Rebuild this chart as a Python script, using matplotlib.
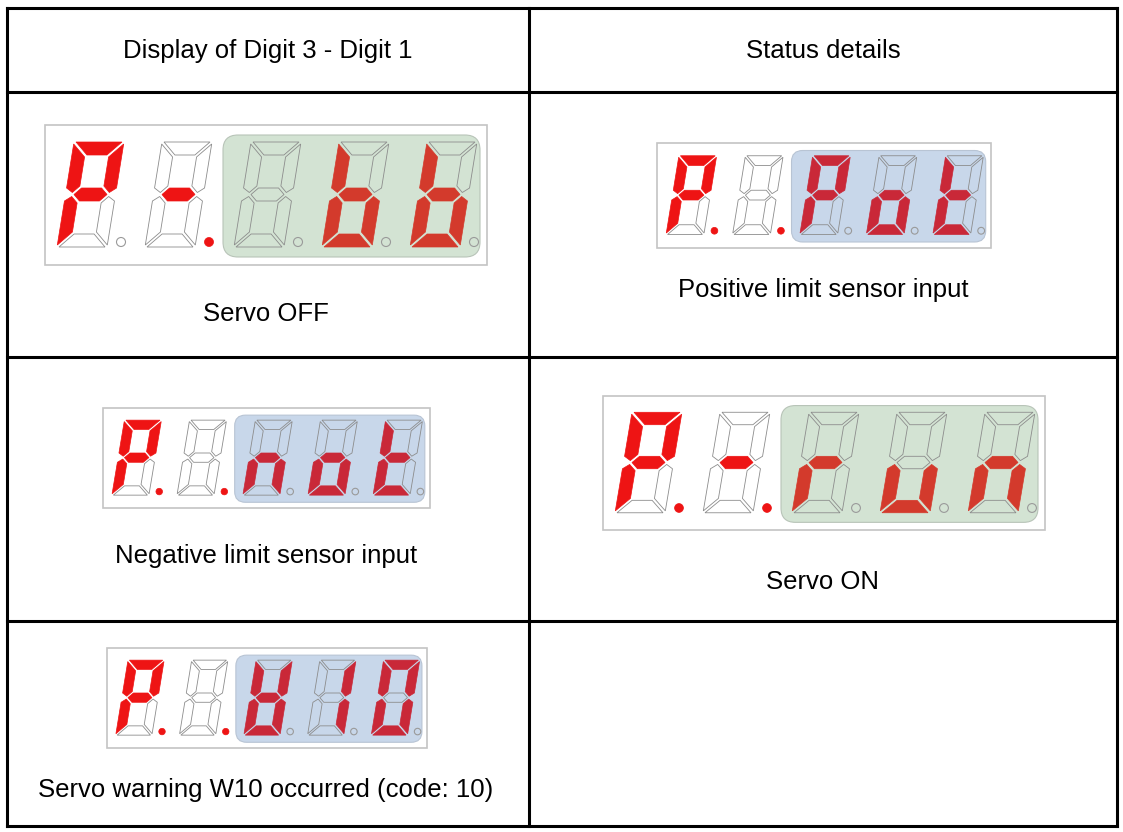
import matplotlib.pyplot as plt
from matplotlib.patches import Polygon, Circle, Rectangle, FancyBboxPatch

plt.rcParams['font.family'] = ['Liberation Sans', 'DejaVu Sans']

# ---- table content ----
header = ['Display of Digit 3 - Digit 1', 'Status details']
status_labels = ['Servo OFF', 'Positive limit sensor input',
                 'Negative limit sensor input', 'Servo ON',
                 'Servo warning W10 occurred (code: 10)']
# characters shown on each 5-digit display
display_chars = [['P', '-', ' ', 'b', 'b'],
                 ['P', ' ', 'P', 'o', 't'],
                 ['P', ' ', 'n', 'o', 't'],
                 ['P', '-', 'r', 'u', 'n'],
                 ['P', ' ', 'W', '1', '0']]
# decimal point lit after digit 1 / digit 2
lead_dots = [[False, True], [True, True], [True, True], [True, True], [True, True]]
box_kind = ['green', 'blue', 'blue', 'green', 'blue']

# segments lit for each character
SEG = {'P': 'abefg', '-': 'g', ' ': '', 'b': 'cdefg', 'o': 'cdeg',
       't': 'defg', 'n': 'ceg', 'r': 'eg', 'u': 'cde', 'W': 'bcdefg',
       '1': 'bc', '0': 'abcdef'}

# ---- layout (pixels) ----
col_x = [7, 529, 1117]
row_y = [8, 92, 357, 621, 826]
disp_boxes = [(45, 125, 442, 140), (657, 143, 334, 105), (103, 408, 327, 100),
              (603, 396, 442, 134), (107, 648, 320, 100)]
label_pos = [(266, 314), (823, 290), (266, 556), (823, 582), (266, 790)]

BOX_FILL = {'green': '#d3e3d3', 'blue': '#c8d7ea'}
BOX_RED = {'green': '#d33a2c', 'blue': '#c92838'}
LEAD_RED = '#ee1414'
OFF_EDGE = '#8c8c8c'

# template for one display, 442 x 140 px
TW, TH = 442.0, 140.0
DIG_X = [12, 100, 189, 277, 365]
D_TOP, D_BOT = 17, 122
DW, SLANT, T, G = 50, 17, 13, 2


def seg_polys(left):
    H = D_BOT - D_TOP
    W = DW
    h2 = H / 2
    up = {
        'a': [(G, H), (W - G, H), (W - T - G, H - T), (T + G, H - T)],
        'd': [(G, 0), (W - G, 0), (W - T - G, T), (T + G, T)],
        'g': [(T / 2 + G, h2), (T + G, h2 + T / 2), (W - T - G, h2 + T / 2),
              (W - T / 2 - G, h2), (W - T - G, h2 - T / 2), (T + G, h2 - T / 2)],
        'f': [(0, H - G), (T, H - T - G), (T, h2 + T / 2 + G), (T / 2, h2 + G),
              (0, h2 + T / 2)],
    }
    up['b'] = [(W - x, y) for x, y in up['f']]
    up['e'] = [(x, H - y) for x, y in up['f']]
    up['c'] = [(W - x, H - y) for x, y in up['f']]
    out = {}
    for k, pts in up.items():
        out[k] = [(left + x + SLANT * y / H, D_BOT - y) for x, y in pts]
    return out


fig = plt.figure(figsize=(11.23, 8.32), dpi=100)
ax = fig.add_axes([0, 0, 1, 1])
ax.set_xlim(0, 1123)
ax.set_ylim(832, 0)
ax.axis('off')

# table grid
for x in col_x:
    ax.plot([x, x], [row_y[0], row_y[-1]], color='black', lw=2.2, solid_capstyle='projecting')
for y in row_y:
    ax.plot([col_x[0], col_x[-1]], [y, y], color='black', lw=2.2, solid_capstyle='projecting')

ax.text((col_x[0] + col_x[1]) / 2, 51, header[0], ha='center', va='center', fontsize=18.5)
ax.text((col_x[1] + col_x[2]) / 2, 51, header[1], ha='center', va='center', fontsize=18.5)

for i, (X, Y, w, h) in enumerate(disp_boxes):
    sx, sy = w / TW, h / TH

    def tr(pts):
        return [(X + px * sx, Y + py * sy) for px, py in pts]

    ax.add_patch(Rectangle((X, Y), w, h, facecolor='white', edgecolor='#c4c4c4', lw=1.2))
    kind = box_kind[i]
    ax.add_patch(FancyBboxPatch((X + 178 * sx, Y + 10 * sy), 257 * sx, 122 * sy,
                                boxstyle='round,pad=0,rounding_size=%.1f' % (15 * sy),
                                facecolor=BOX_FILL[kind], edgecolor='#b8c4b8' if kind == 'green' else '#b8c4d4',
                                lw=0.8))
    for j, ch in enumerate(display_chars[i]):
        lit = SEG[ch]
        red = LEAD_RED if j < 2 else BOX_RED[kind]
        bg = 'white' if j < 2 else BOX_FILL[kind]
        for k, pts in seg_polys(DIG_X[j]).items():
            if k in lit:
                ax.add_patch(Polygon(tr(pts), closed=True, facecolor=red, edgecolor=red, lw=0.5))
            else:
                ax.add_patch(Polygon(tr(pts), closed=True, facecolor=bg, edgecolor=OFF_EDGE, lw=0.6))
        cx, cy = tr([(DIG_X[j] + 64, 117)])[0]
        r = 4.5 * (sx + sy) / 2
        if j < 2 and lead_dots[i][j]:
            ax.add_patch(Circle((cx, cy), r, facecolor=LEAD_RED, edgecolor=LEAD_RED, lw=0.5))
        else:
            ax.add_patch(Circle((cx, cy), r, facecolor=bg, edgecolor='#9a9a9a', lw=0.8))

    lx, ly = label_pos[i]
    ax.text(lx, ly, status_labels[i], ha='center', va='center', fontsize=18.5)

fig.savefig('out.png', dpi=100)
